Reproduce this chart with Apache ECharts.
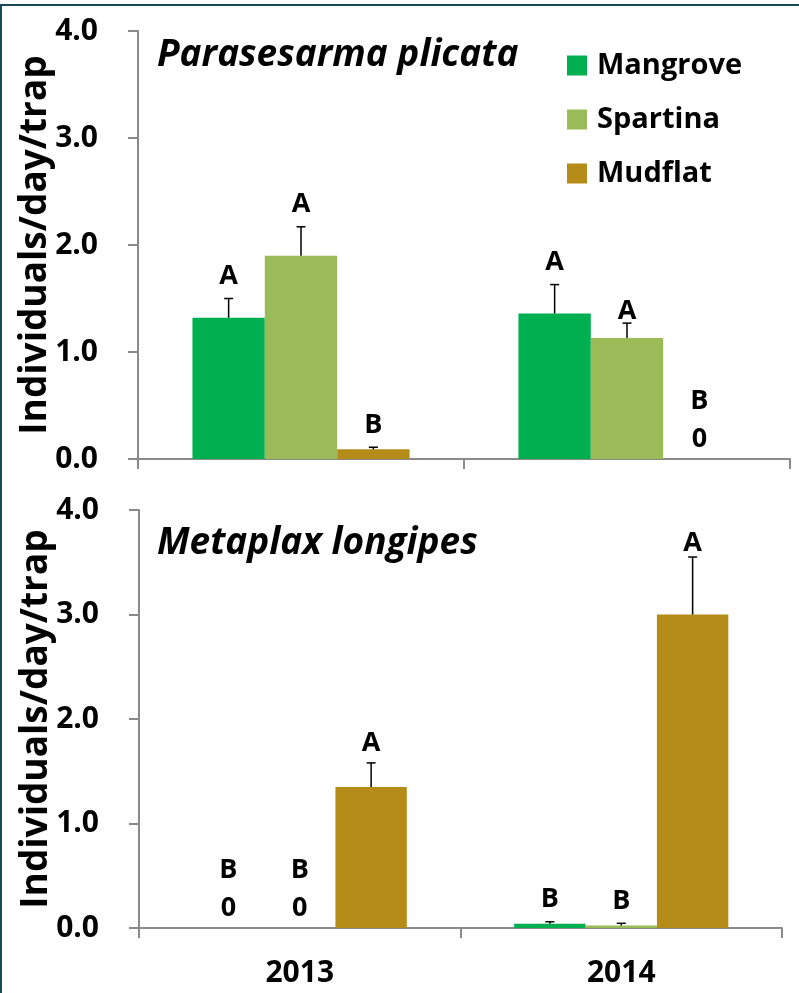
<!DOCTYPE html>
<html>
<head>
<meta charset="utf-8">
<script src="https://cdn.jsdelivr.net/npm/echarts@6/dist/echarts.min.js"></script>
<style>
html,body{margin:0;padding:0;background:#fff;}
#chart{width:799px;height:993px;}
</style>
</head>
<body>
<div id="chart"></div>
<script>
// ---------- DATA ----------
const categories = ['2013', '2014'];
const groupNames = ['Mangrove', 'Spartina', 'Mudflat'];
const yTicks = [0, 1, 2, 3, 4];

// Parasesarma plicata (top panel): mean and SE per year
const pMangrove = [1.32, 1.36];
const pSpartina = [1.90, 1.13];
const pMudflat = [0.09, 0];
const pMangroveSE = [0.18, 0.27];
const pSpartinaSE = [0.27, 0.14];
const pMudflatSE = [0.02, 0];
const pMangroveLetters = ['A', 'A'];
const pSpartinaLetters = ['A', 'A'];
const pMudflatLetters = ['B', 'B'];

// Metaplax longipes (bottom panel)
const mMangrove = [0, 0.04];
const mSpartina = [0, 0.025];
const mMudflat = [1.35, 3.00];
const mMangroveSE = [0, 0.02];
const mSpartinaSE = [0, 0.02];
const mMudflatSE = [0.23, 0.55];
const mMangroveLetters = ['B', 'B'];
const mSpartinaLetters = ['B', 'B'];
const mMudflatLetters = ['A', 'A'];

const panelTitles = ['Parasesarma plicata', 'Metaplax longipes'];
const yAxisTitle = 'Individuals/day/trap';

// ---------- STYLE ----------
const colors = ['#00B050', '#9BBB59', '#B58C17'];
const FONT = 'Open Sans';
const axisColor = '#8a8a8a';
const BAR_FRAC = 0.222;

const chart = echarts.init(document.getElementById('chart'), null, {renderer: 'canvas'});

function makeAnno(means, ses, letters, idx, gridIdx, gapOverride) {
  const data = means.map((v, i) => [i, v, ses[i], letters[i]]);
  return {
    type: 'custom',
    name: groupNames[idx] + '_anno' + gridIdx,
    xAxisIndex: gridIdx, yAxisIndex: gridIdx,
    silent: true, z: 5,
    data: data,
    renderItem: function (params, api) {
      const xi = api.value(0), v = api.value(1), e = api.value(2);
      const letter = data[params.dataIndex][3];
      const band = api.size([1, 0])[0];
      const base = api.coord([xi, v]);
      const cx = base[0] + band * BAR_FRAC * (idx - 1);
      const children = [];
      const txtStyle = {fill: '#000', font: 'bold 27px "' + FONT + '"', align: 'center', verticalAlign: 'middle'};
      if (v === 0 && e === 0) {
        const zeroY = api.coord([xi, 0])[1];
        children.push({type: 'text', style: Object.assign({text: '0', x: cx, y: zeroY - 20}, txtStyle)});
        children.push({type: 'text', style: Object.assign({text: letter, x: cx, y: zeroY - 58}, txtStyle)});
      } else {
        const top = api.coord([xi, v + e]);
        children.push({type: 'line', shape: {x1: cx, y1: base[1], x2: cx, y2: top[1]}, style: {stroke: '#000', lineWidth: 1.5}});
        children.push({type: 'line', shape: {x1: cx - 4.5, y1: top[1], x2: cx + 4.5, y2: top[1]}, style: {stroke: '#000', lineWidth: 1.5}});
        const gap = (gapOverride && gapOverride[xi] != null) ? gapOverride[xi] : 22;
        children.push({type: 'text', style: Object.assign({text: letter, x: cx, y: top[1] - gap}, txtStyle)});
      }
      return {type: 'group', children: children};
    }
  };
}

function bar(name, values, idx, gridIdx) {
  return {
    type: 'bar', name: name, data: values,
    xAxisIndex: gridIdx, yAxisIndex: gridIdx,
    barWidth: (BAR_FRAC * 100) + '%', barGap: '0%',
    itemStyle: {color: colors[idx]},
    silent: true
  };
}

function xAxisCfg(gridIdx, showLabels) {
  return {
    type: 'category', gridIndex: gridIdx, data: categories,
    axisLine: {lineStyle: {color: axisColor, width: 2}},
    axisTick: {show: true, length: 10, lineStyle: {color: axisColor, width: 2}},
    axisLabel: {show: showLabels, color: '#000', fontFamily: FONT, fontWeight: 'bold', fontSize: 30, margin: 30},
    splitLine: {show: false}
  };
}
function yAxisCfg(gridIdx) {
  return {
    type: 'value', gridIndex: gridIdx, min: 0, max: 4, interval: 1,
    axisLine: {show: true, lineStyle: {color: axisColor, width: 2}},
    axisTick: {show: true, length: 10, lineStyle: {color: axisColor, width: 2}},
    axisLabel: {color: '#000', fontFamily: FONT, fontWeight: 'bold', fontSize: 30, margin: 40,
      formatter: v => v.toFixed(1)},
    splitLine: {show: false},
    name: yAxisTitle, nameLocation: 'middle', nameGap: 84, nameMoveOverlap: false,
    nameTextStyle: {color: '#000', fontFamily: FONT, fontWeight: 'bold', fontSize: 37}
  };
}

const option = {
  backgroundColor: '#fff',
  animation: false,
  textStyle: {fontFamily: FONT},
  title: [
    {text: panelTitles[0], left: 157, top: 37, padding: 0,
     textStyle: {fontFamily: FONT, fontStyle: 'italic', fontWeight: 'bold', fontSize: 37, color: '#000'}},
    {text: panelTitles[1], left: 157, top: 525, padding: 0,
     textStyle: {fontFamily: FONT, fontStyle: 'italic', fontWeight: 'bold', fontSize: 37, color: '#000'}}
  ],
  legend: {
    data: groupNames, orient: 'vertical', left: 567, top: 51, padding: 0,
    itemWidth: 20, itemHeight: 20, itemGap: 25, icon: 'rect',
    textStyle: {fontFamily: FONT, fontWeight: 'bold', fontSize: 29, color: '#000', padding: [0, 0, 0, 5]}
  },
  grid: [
    {left: 138, top: 31, width: 652, height: 428},
    {left: 139, top: 510, width: 643, height: 418}
  ],
  xAxis: [xAxisCfg(0, false), xAxisCfg(1, true)],
  yAxis: [yAxisCfg(0), yAxisCfg(1)],
  graphic: [
    {type: 'line', shape: {x1: 0, y1: 5, x2: 799, y2: 5}, style: {stroke: '#1b4a56', lineWidth: 2}, z: 100},
    {type: 'line', shape: {x1: 1, y1: 4, x2: 1, y2: 993}, style: {stroke: '#1b4a56', lineWidth: 2}, z: 100}
  ],
  series: [
    bar(groupNames[0], pMangrove, 0, 0),
    bar(groupNames[1], pSpartina, 1, 0),
    bar(groupNames[2], pMudflat, 2, 0),
    bar(groupNames[0], mMangrove, 0, 1),
    bar(groupNames[1], mSpartina, 1, 1),
    bar(groupNames[2], mMudflat, 2, 1),
    makeAnno(pMangrove, pMangroveSE, pMangroveLetters, 0, 0),
    makeAnno(pSpartina, pSpartinaSE, pSpartinaLetters, 1, 0, [null, 12]),
    makeAnno(pMudflat, pMudflatSE, pMudflatLetters, 2, 0),
    makeAnno(mMangrove, mMangroveSE, mMangroveLetters, 0, 1),
    makeAnno(mSpartina, mSpartinaSE, mSpartinaLetters, 1, 1),
    makeAnno(mMudflat, mMudflatSE, mMudflatLetters, 2, 1, [20, 14])
  ]
};
chart.setOption(option);
</script>
</body>
</html>
